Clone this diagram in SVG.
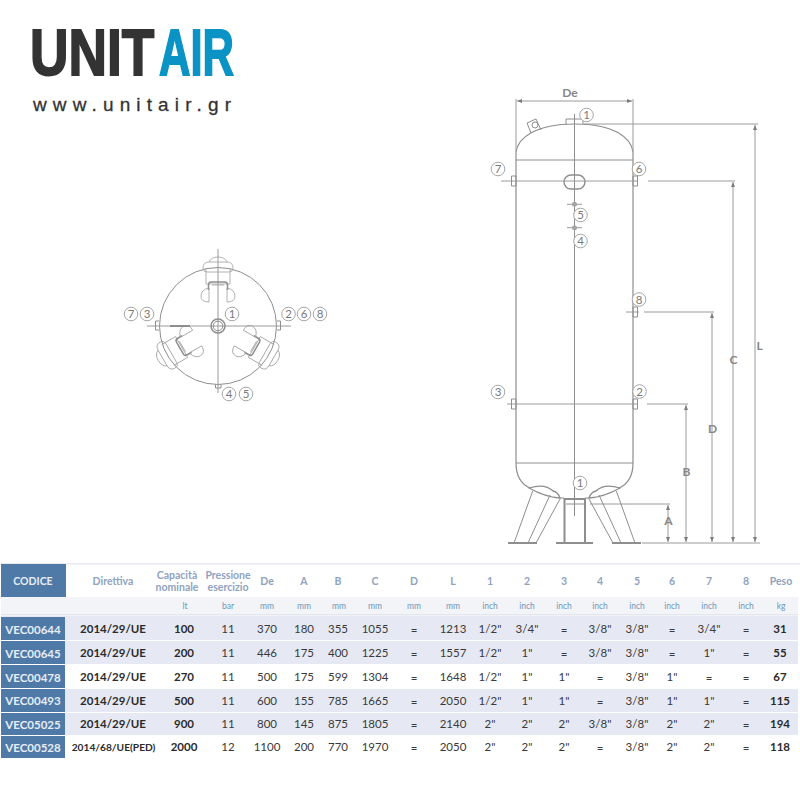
<svg xmlns="http://www.w3.org/2000/svg" width="800" height="800" viewBox="0 0 800 800">
<style>
text{font-family:"Lato","Open Sans","Liberation Sans",sans-serif;text-anchor:middle}
.logo{font-family:"Liberation Sans",sans-serif;font-size:65px;font-weight:700;text-anchor:start;stroke-width:1.800}
.l{fill:none;stroke:#8e8e8e;stroke-width:1}
.t{fill:none;stroke:#9a9a9a;stroke-width:1}
.f{fill:none;stroke:#a0a0a0;stroke-width:.8}
.h{fill:none;stroke:#8e8e8e;stroke-width:2}
.c{fill:#fff;stroke:#9c9c9c;stroke-width:.9}
.n{font-size:11.5px;fill:#7a7a7a}
.dim{font-size:12px;font-weight:700;fill:#868686}
.hd{font-size:10.5px;font-weight:700;fill:#8fa3c0}
.u{font-size:8.5px;fill:#6f94bd}
.v{font-size:11.5px;fill:#3a3a3a}
.b{font-size:11.5px;font-weight:700;fill:#2b2b2b}
.k{font-size:11.500px;font-weight:700;fill:#e6edf5}
.code{fill:#4f7aa7}
.alt{fill:#e6e9f3}
</style>
<defs>
<marker id="a" markerWidth="6" markerHeight="6" refX="5" refY="2" orient="auto-start-reverse" markerUnits="userSpaceOnUse"><path d="M0,0L5,2L0,4Z" fill="#7d7d7d"/></marker>
<g id="leg">
<path class="f" d="M-12,-58V-42H12V-58M-15,-58Q-15,-64 -9,-64H9Q15,-64 15,-58Q15,-54 11,-54H-11Q-15,-54 -15,-58ZM-9,-64Q-7,-69 0,-69Q7,-69 9,-64"/>
<path class="h" style="stroke-width:1.500" d="M-9.500,-36V-41Q-9.500,-44 -7,-44H7Q9.500,-44 9.500,-41V-36"/>
<path class="f" d="M-9.500,-38Q-17,-36 -17,-30Q-17,-24 -9,-24V-38M9.500,-38Q17,-36 17,-30Q17,-24 9,-24V-38M-6,-41H6"/>
</g>
</defs>
<rect width="800" height="800" fill="#fff"/>
<g id="logo">
<g transform="translate(30 75) scale(.82 1)"><text class="logo" x="0" y="0" fill="#333" stroke="#333">UNIT</text></g>
<g transform="translate(159 75) scale(.67 1)"><text class="logo" x="0" y="0" fill="#0a93c4" stroke="#0a93c4">AIR</text></g>
<text x="132" y="111" font-size="19" fill="#333" stroke="#333" stroke-width=".3" textLength="198" style="font-family:'Liberation Sans',sans-serif">www.unitair.gr</text>
</g>
<g id="top-view">
<circle class="l" cx="218" cy="326" r="58.500"/>
<path class="t" d="M218,249V393M147,326H291"/>
<path class="l" d="M159,321H155.500V330H159M277,321H280.500V330H277M215.500,384.500V388H221V384.500"/>
<use href="#leg" transform="translate(218 326)"/>
<use href="#leg" transform="translate(218 326) rotate(120)"/>
<use href="#leg" transform="translate(218 326) rotate(-120)"/>
<path class="h" d="M170,326H190"/>
<circle class="h" cx="218" cy="326" r="7" style="stroke-width:1.500"/>
<circle class="l" cx="218" cy="326" r="4.800"/>
</g>
<g id="tank">
<path class="h" style="stroke-width:1.200" d="M516,152C518,138 535,124 575,124S631,138 633,152V463C633,475 628,484 619,488M516,152V463C516,475 521,484 530,488"/>
<path class="l" d="M516,160H633M516,463H633M574.500,114V516"/>
<path class="l" d="M566,124V119H583V124"/>
<path class="l" d="M531,133L527,123L536,119L541,130"/>
<circle class="l" cx="535" cy="125" r="3"/>
<path class="t" d="M501,181H637M648,181H735M507,404H638M647,404H688M626,312H639M644,312H714M590,504H670M642,543H760M584,124H758"/>
<path class="l" d="M511.500,176H516V186H511.500ZM633,176H637.500V186H633ZM633,307H637.500V317H633ZM633,399H637.500V409H633ZM511.500,399H516V409H511.500Z"/>
<rect class="l" x="564" y="175" width="21" height="14" rx="7" style="stroke-width:1.400"/>
<path class="t" d="M567,204.300H582M567,227.700H582"/>
<circle cx="574.500" cy="204.300" r="2.500" fill="#a5a5a5"/>
<circle cx="574.500" cy="227.700" r="2.500" fill="#a5a5a5"/>
</g>
<g id="supports">
<path class="l" style="stroke-width:1.300" d="M529,488Q545,483 553,491Q558,492 560,498Q545,497 529,488ZM620,488Q604,483 596,491Q591,492 589,498Q604,497 620,488Z"/>
<path class="l" d="M532.700,491L514,543M550,495L528,543M560,499L536,543M616.300,491L635,543M599,495L621,543M589,499L613,543M560,498H564M585,498H589"/>
<path class="h" d="M564.500,543V499H585V543M508,543H537M556,543H593M612,543H641"/>
<path class="l" d="M566,504H584"/>
</g>
<g id="connectors">
<path class="t" d="M516,99V152M633,99V152"/>
<path class="t" marker-start="url(#a)" marker-end="url(#a)" d="M517,101H632"/>
<path class="t" marker-start="url(#a)" marker-end="url(#a)" d="M755,125V542"/>
<path class="t" marker-start="url(#a)" marker-end="url(#a)" d="M733,182V542"/>
<path class="t" marker-start="url(#a)" marker-end="url(#a)" d="M712,313V542"/>
<path class="t" marker-start="url(#a)" marker-end="url(#a)" d="M686,405V542"/>
<path class="t" marker-start="url(#a)" marker-end="url(#a)" d="M668,505V542"/>
</g>
<g id="dim-labels">
<text class="dim" x="570" y="97">De</text>
<text class="dim" x="759.500" y="350">L</text>
<text class="dim" x="733.500" y="364">C</text>
<text class="dim" x="712.500" y="433">D</text>
<text class="dim" x="686.500" y="476">B</text>
<text class="dim" x="668.500" y="525">A</text>
</g>
<g id="callouts">
<g><circle class="c" cx="586.500" cy="115" r="6.800"/><text class="n" x="586.500" y="119">1</text></g>
<g><circle class="c" cx="498" cy="169" r="6.800"/><text class="n" x="498" y="173">7</text></g>
<g><circle class="c" cx="639" cy="169" r="6.800"/><text class="n" x="639" y="173">6</text></g>
<g><circle class="c" cx="580.500" cy="215" r="6.800"/><text class="n" x="580.500" y="219">5</text></g>
<g><circle class="c" cx="580.500" cy="241" r="6.800"/><text class="n" x="580.500" y="245">4</text></g>
<g><circle class="c" cx="639" cy="299.500" r="6.800"/><text class="n" x="639" y="303.500">8</text></g>
<g><circle class="c" cx="498" cy="392" r="6.800"/><text class="n" x="498" y="396">3</text></g>
<g><circle class="c" cx="639.500" cy="391.500" r="6.800"/><text class="n" x="639.500" y="395.500">2</text></g>
<g><circle class="c" cx="580" cy="483" r="6.800"/><text class="n" x="580" y="487">1</text></g>
<g><circle class="c" cx="131" cy="314" r="6.800"/><text class="n" x="131" y="318">7</text></g>
<g><circle class="c" cx="147" cy="314" r="6.800"/><text class="n" x="147" y="318">3</text></g>
<g><circle class="c" cx="232" cy="314" r="6.800"/><text class="n" x="232" y="318">1</text></g>
<g><circle class="c" cx="288.500" cy="314" r="6.800"/><text class="n" x="288.500" y="318">2</text></g>
<g><circle class="c" cx="304" cy="314" r="6.800"/><text class="n" x="304" y="318">6</text></g>
<g><circle class="c" cx="320" cy="314" r="6.800"/><text class="n" x="320" y="318">8</text></g>
<g><circle class="c" cx="229" cy="394" r="6.800"/><text class="n" x="229" y="398">4</text></g>
<g><circle class="c" cx="246" cy="394" r="6.800"/><text class="n" x="246" y="398">5</text></g>
</g>
<g id="table">
<rect x="0" y="563" width="800" height="1.500" fill="#e8eaf0"/>
<rect x="1" y="597" width="797" height="17" fill="#f3f4f8"/>
<rect x="1" y="614" width="797" height="1.500" fill="#e3e6ee"/>
<rect x="1" y="616" width="797" height="24" class="alt"/>
<rect x="1" y="641" width="797" height="23" class="alt"/>
<rect x="1" y="689" width="797" height="23" class="alt"/>
<rect x="1" y="713" width="797" height="22" class="alt"/>
<rect x="1" y="564" width="65" height="33" class="code"/>
<rect x="1" y="617" width="64" height="23" class="code"/>
<rect x="1" y="641" width="64" height="23" class="code"/>
<rect x="1" y="665" width="64" height="23" class="code"/>
<rect x="1" y="689" width="64" height="23" class="code"/>
<rect x="1" y="713" width="64" height="22" class="code"/>
<rect x="1" y="736" width="64" height="22" class="code"/>
<g id="head">
<text class="k" x="33" y="585" style="font-size:10.500px">CODICE</text>
<text class="hd" x="113" y="585">Direttiva</text>
<text class="hd" x="177" y="579">Capacità</text><text class="hd" x="177" y="591">nominale</text>
<text class="hd" x="228" y="579">Pressione</text><text class="hd" x="228" y="591">esercizio</text>
<text class="hd" x="267" y="585">De</text><text class="hd" x="304" y="585">A</text><text class="hd" x="338" y="585">B</text><text class="hd" x="375" y="585">C</text><text class="hd" x="414" y="585">D</text><text class="hd" x="453" y="585">L</text><text class="hd" x="490" y="585">1</text><text class="hd" x="527" y="585">2</text><text class="hd" x="564" y="585">3</text><text class="hd" x="600" y="585">4</text><text class="hd" x="637" y="585">5</text><text class="hd" x="672" y="585">6</text><text class="hd" x="709" y="585">7</text><text class="hd" x="746" y="585">8</text><text class="hd" x="781" y="585">Peso</text>
</g>
<g id="units">
<text class="u" x="185" y="609">lt</text><text class="u" x="228" y="609">bar</text><text class="u" x="267" y="609">mm</text><text class="u" x="304" y="609">mm</text><text class="u" x="339" y="609">mm</text><text class="u" x="375" y="609">mm</text><text class="u" x="414" y="609">mm</text><text class="u" x="453" y="609">mm</text><text class="u" x="490" y="609">inch</text><text class="u" x="527" y="609">inch</text><text class="u" x="564" y="609">inch</text><text class="u" x="600" y="609">inch</text><text class="u" x="637" y="609">inch</text><text class="u" x="672" y="609">inch</text><text class="u" x="709" y="609">inch</text><text class="u" x="746" y="609">inch</text><text class="u" x="781" y="609">kg</text>
</g>
<g id="row1"><text class="k" x="33" y="634">VEC00644</text><text class="b" x="113" y="633">2014/29/UE</text><text class="b" x="184" y="633">100</text><text class="v" x="228" y="633">11</text><text class="v" x="267" y="633">370</text><text class="v" x="304" y="633">180</text><text class="v" x="338" y="633">355</text><text class="v" x="375" y="633">1055</text><text class="v" x="414" y="634">=</text><text class="v" x="453" y="633">1213</text><text class="v" x="490" y="633">1/2"</text><text class="v" x="527" y="633">3/4"</text><text class="v" x="564" y="634">=</text><text class="v" x="600" y="633">3/8"</text><text class="v" x="637" y="633">3/8"</text><text class="v" x="672" y="634">=</text><text class="v" x="709" y="633">3/4"</text><text class="v" x="746" y="634">=</text><text class="b" x="780" y="633">31</text></g>
<g id="row2"><text class="k" x="33" y="658">VEC00645</text><text class="b" x="113" y="657">2014/29/UE</text><text class="b" x="184" y="657">200</text><text class="v" x="228" y="657">11</text><text class="v" x="267" y="657">446</text><text class="v" x="304" y="657">175</text><text class="v" x="338" y="657">400</text><text class="v" x="375" y="657">1225</text><text class="v" x="414" y="658">=</text><text class="v" x="453" y="657">1557</text><text class="v" x="490" y="657">1/2"</text><text class="v" x="527" y="657">1"</text><text class="v" x="564" y="658">=</text><text class="v" x="600" y="657">3/8"</text><text class="v" x="637" y="657">3/8"</text><text class="v" x="672" y="658">=</text><text class="v" x="709" y="657">1"</text><text class="v" x="746" y="658">=</text><text class="b" x="780" y="657">55</text></g>
<g id="row3"><text class="k" x="33" y="682">VEC00478</text><text class="b" x="113" y="681">2014/29/UE</text><text class="b" x="184" y="681">270</text><text class="v" x="228" y="681">11</text><text class="v" x="267" y="681">500</text><text class="v" x="304" y="681">175</text><text class="v" x="338" y="681">599</text><text class="v" x="375" y="681">1304</text><text class="v" x="414" y="682">=</text><text class="v" x="453" y="681">1648</text><text class="v" x="490" y="681">1/2"</text><text class="v" x="527" y="681">1"</text><text class="v" x="564" y="681">1"</text><text class="v" x="600" y="682">=</text><text class="v" x="637" y="681">3/8"</text><text class="v" x="672" y="681">1"</text><text class="v" x="709" y="682">=</text><text class="v" x="746" y="682">=</text><text class="b" x="780" y="681">67</text></g>
<g id="row4"><text class="k" x="33" y="705">VEC00493</text><text class="b" x="113" y="705">2014/29/UE</text><text class="b" x="184" y="705">500</text><text class="v" x="228" y="705">11</text><text class="v" x="267" y="705">600</text><text class="v" x="304" y="705">155</text><text class="v" x="338" y="705">785</text><text class="v" x="375" y="705">1665</text><text class="v" x="414" y="706">=</text><text class="v" x="453" y="705">2050</text><text class="v" x="490" y="705">1/2"</text><text class="v" x="527" y="705">1"</text><text class="v" x="564" y="705">1"</text><text class="v" x="600" y="706">=</text><text class="v" x="637" y="705">3/8"</text><text class="v" x="672" y="705">1"</text><text class="v" x="709" y="705">1"</text><text class="v" x="746" y="706">=</text><text class="b" x="780" y="705">115</text></g>
<g id="row5"><text class="k" x="33" y="729">VEC05025</text><text class="b" x="113" y="728">2014/29/UE</text><text class="b" x="184" y="728">900</text><text class="v" x="228" y="728">11</text><text class="v" x="267" y="728">800</text><text class="v" x="304" y="728">145</text><text class="v" x="338" y="728">875</text><text class="v" x="375" y="728">1805</text><text class="v" x="414" y="729">=</text><text class="v" x="453" y="728">2140</text><text class="v" x="490" y="728">2"</text><text class="v" x="527" y="728">2"</text><text class="v" x="564" y="728">2"</text><text class="v" x="600" y="728">3/8"</text><text class="v" x="637" y="728">3/8"</text><text class="v" x="672" y="728">2"</text><text class="v" x="709" y="728">2"</text><text class="v" x="746" y="729">=</text><text class="b" x="780" y="728">194</text></g>
<g id="row6"><text class="k" x="33" y="752">VEC00528</text><text class="b" x="113.500" y="751" style="font-size:10.200px">2014/68/UE(PED)</text><text class="b" x="184" y="751">2000</text><text class="v" x="228" y="751">12</text><text class="v" x="267" y="751">1100</text><text class="v" x="304" y="751">200</text><text class="v" x="338" y="751">770</text><text class="v" x="375" y="751">1970</text><text class="v" x="414" y="752">=</text><text class="v" x="453" y="751">2050</text><text class="v" x="490" y="751">2"</text><text class="v" x="527" y="751">2"</text><text class="v" x="564" y="751">2"</text><text class="v" x="600" y="752">=</text><text class="v" x="637" y="751">3/8"</text><text class="v" x="672" y="751">2"</text><text class="v" x="709" y="751">2"</text><text class="v" x="746" y="752">=</text><text class="b" x="780" y="751">118</text></g>
</g>
</svg>
